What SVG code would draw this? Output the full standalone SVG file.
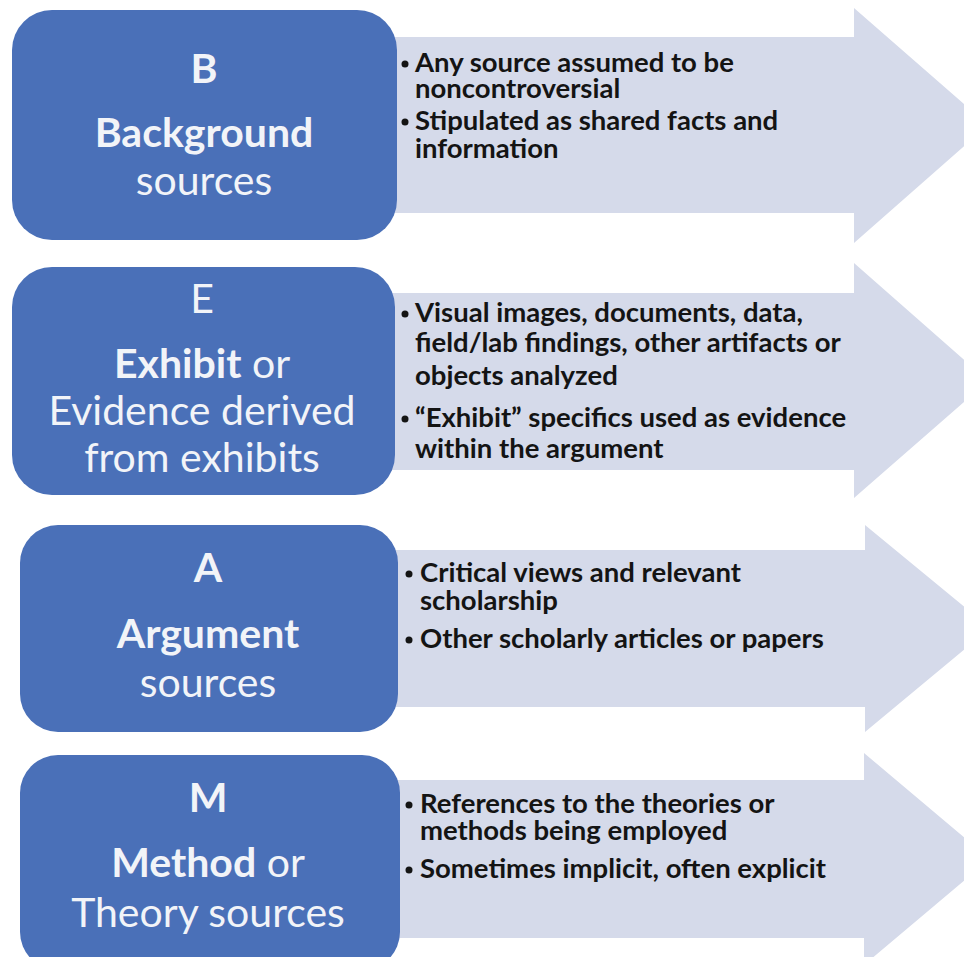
<svg xmlns="http://www.w3.org/2000/svg" width="964" height="957" viewBox="0 0 964 957">
<style>
.box{fill:#4A70B8;}
.arrow{fill:#D5DAEA;}
.t{font-family:Lato,"Open Sans","Liberation Sans",sans-serif;fill:#F2F4F8;font-size:41px;text-anchor:middle;}
.b{font-weight:700;}
.r{font-weight:400;}
.d{font-family:Lato,"Open Sans","Liberation Sans",sans-serif;fill:#141414;font-size:27.5px;font-weight:700;}
.dot{fill:#141414;}
</style>
<rect width="964" height="957" fill="#FFFFFF"/>
<g id="connectors">
<polygon id="arrow-b" class="arrow" points="380,37 854,37 854,8 988,125 854,243 854,213 380,213"/>
<polygon id="arrow-e" class="arrow" points="380,293 854,293 854,263 988,381 854,498 854,470 380,470"/>
<polygon id="arrow-a" class="arrow" points="380,550 865,550 865,525 990,628 865,732 865,707 380,707"/>
<polygon id="arrow-m" class="arrow" points="380,780 864,780 864,753 990,859 864,965 864,938 380,938"/>
</g>
<g id="node-b">
<rect class="box" x="12" y="10" width="385" height="230" rx="40"/>
<text class="t b" x="204" y="83">B</text>
<text class="t b" x="204" y="147">Background</text>
<text class="t r" x="204" y="195">sources</text>
</g>
<g id="desc-b">
<circle class="dot" cx="405" cy="64" r="3.5"/>
<text class="d" x="415" y="72">Any source assumed to be</text>
<text class="d" x="415" y="98">noncontroversial</text>
<circle class="dot" cx="405" cy="122" r="3.5"/>
<text class="d" x="415" y="130">Stipulated as shared facts and</text>
<text class="d" x="415" y="158">information</text>
</g>
<g id="node-e">
<rect class="box" x="12" y="267" width="383" height="228" rx="40"/>
<text class="t r" x="202" y="313">E</text>
<text class="t" x="202" y="378"><tspan class="b">Exhibit</tspan><tspan class="r"> or</tspan></text>
<text class="t r" x="202" y="425">Evidence derived</text>
<text class="t r" x="202" y="472">from exhibits</text>
</g>
<g id="desc-e">
<circle class="dot" cx="405" cy="314" r="3.5"/>
<text class="d" x="415" y="322">Visual images, documents, data,</text>
<text class="d" x="415" y="352">field/lab findings, other artifacts or</text>
<text class="d" x="415" y="385">objects  analyzed</text>
<circle class="dot" cx="405" cy="419" r="3.5"/>
<text class="d" x="415" y="427">“Exhibit” specifics used as evidence</text>
<text class="d" x="415" y="458">within the argument</text>
</g>
<g id="node-a">
<rect class="box" x="20" y="525" width="378" height="207" rx="38"/>
<text class="t b" x="208" y="582">A</text>
<text class="t b" x="208" y="648">Argument</text>
<text class="t r" x="208" y="697">sources</text>
</g>
<g id="desc-a">
<circle class="dot" cx="409" cy="574" r="3.5"/>
<text class="d" x="420" y="582">Critical views and relevant</text>
<text class="d" x="420" y="610">scholarship</text>
<circle class="dot" cx="409" cy="640" r="3.5"/>
<text class="d" x="420" y="648">Other scholarly articles or papers</text>
</g>
<g id="node-m">
<rect class="box" x="20" y="755" width="380" height="215" rx="38"/>
<text class="t b" x="208" y="812">M</text>
<text class="t" x="208" y="877"><tspan class="b">Method</tspan><tspan class="r"> or</tspan></text>
<text class="t r" x="208" y="927">Theory sources</text>
</g>
<g id="desc-m">
<circle class="dot" cx="409" cy="805" r="3.5"/>
<text class="d" x="420" y="813">References to the theories or</text>
<text class="d" x="420" y="840">methods being employed</text>
<circle class="dot" cx="409" cy="870" r="3.5"/>
<text class="d" x="420" y="878">Sometimes implicit, often explicit</text>
</g>
</svg>
